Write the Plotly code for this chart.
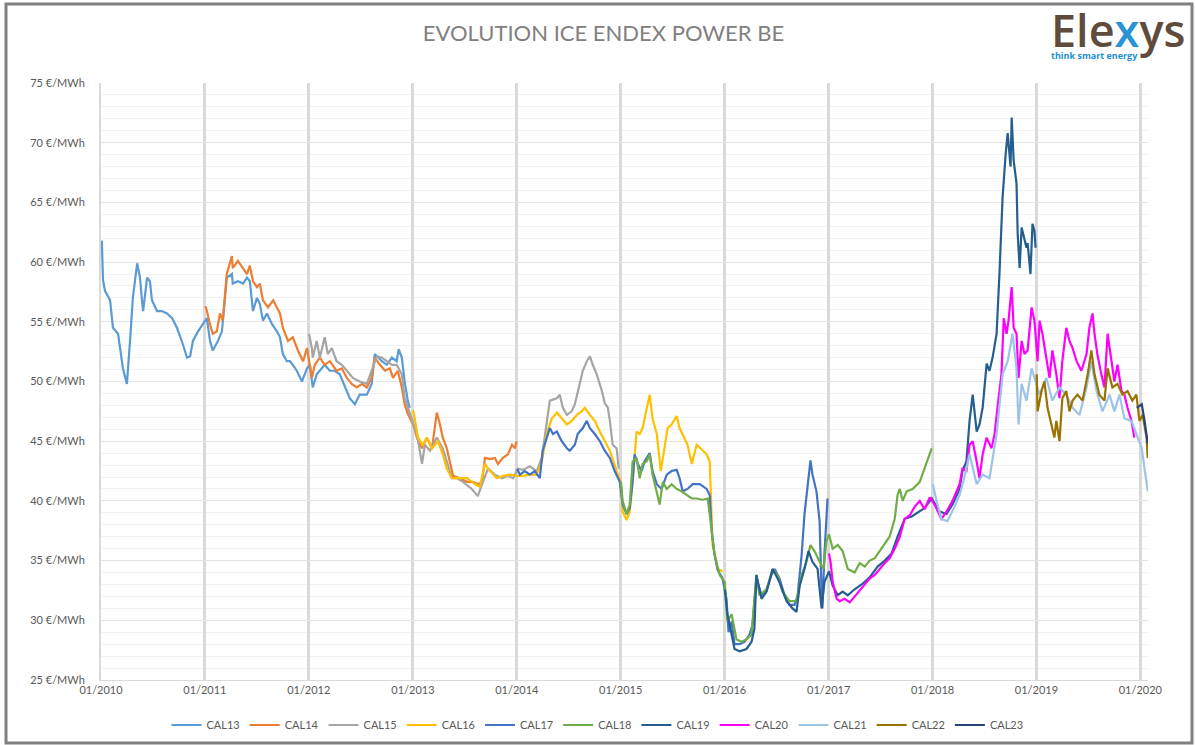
import plotly.graph_objects as go

# ---------------- data ----------------
series_names = ["CAL13", "CAL14", "CAL15", "CAL16", "CAL17", "CAL18",
                "CAL19", "CAL20", "CAL21", "CAL22", "CAL23"]
series_colors = ["#5B9BD5", "#ED7D31", "#A5A5A5", "#FFC000", "#4472C4", "#70AD47",
                 "#255E91", "#FF00FF", "#9DC3E6", "#997300", "#264478"]

cal13_dates = ["2010-01-04", "2010-01-08", "2010-01-15", "2010-02-02", "2010-02-12", "2010-03-02",
               "2010-03-19", "2010-04-02", "2010-04-13", "2010-04-23", "2010-05-08", "2010-05-18",
               "2010-05-25", "2010-05-29", "2010-06-12", "2010-06-22", "2010-06-29", "2010-07-17",
               "2010-08-03", "2010-08-21", "2010-09-08", "2010-09-25", "2010-10-16", "2010-10-30",
               "2010-11-10", "2010-11-20", "2010-12-08", "2010-12-26", "2011-01-08", "2011-01-19",
               "2011-01-29", "2011-02-16", "2011-03-02", "2011-03-19", "2011-04-06", "2011-04-09",
               "2011-04-27", "2011-05-15", "2011-05-29", "2011-06-08", "2011-06-19", "2011-07-03",
               "2011-07-13", "2011-07-24", "2011-08-07", "2011-08-25", "2011-09-11", "2011-09-22",
               "2011-10-02", "2011-10-16", "2011-10-27", "2011-11-06", "2011-11-20", "2011-12-08",
               "2011-12-26", "2012-01-05", "2012-01-15", "2012-01-29", "2012-02-09", "2012-02-26",
               "2012-03-15", "2012-04-01", "2012-04-19", "2012-05-07", "2012-05-24", "2012-06-11",
               "2012-06-28", "2012-07-23", "2012-08-09", "2012-08-20", "2012-09-14", "2012-10-01",
               "2012-10-19", "2012-11-05", "2012-11-12", "2012-11-23", "2012-12-03", "2012-12-14",
               "2012-12-21"]
cal13_values = [61.8, 58.5, 57.6, 56.8, 54.5, 54.0, 51.1, 49.8, 53.4, 57.0, 59.9, 58.7,
                56.8, 55.9, 58.7, 58.4, 56.8, 55.9, 55.9, 55.7, 55.3, 54.5, 53.1, 52.0,
                52.1, 53.4, 54.2, 54.8, 55.3, 53.4, 52.6, 53.4, 54.2, 58.7, 59.0, 58.2,
                58.4, 58.2, 58.7, 58.4, 55.9, 57.0, 56.5, 55.1, 55.7, 54.8, 54.2, 53.7,
                52.3, 51.7, 51.7, 51.4, 50.9, 50.0, 51.1, 51.4, 49.5, 50.6, 50.9, 51.4,
                50.9, 50.9, 50.6, 49.5, 48.6, 48.1, 48.9, 48.9, 49.8, 52.3, 51.7, 51.4,
                52.0, 51.7, 52.7, 52.0, 50.0, 48.4, 47.8]

cal14_dates = ["2011-01-03", "2011-01-08", "2011-01-19", "2011-01-29", "2011-02-12", "2011-02-23",
               "2011-03-05", "2011-03-19", "2011-04-06", "2011-04-09", "2011-04-27", "2011-05-15",
               "2011-05-29", "2011-06-08", "2011-06-19", "2011-07-03", "2011-07-13", "2011-07-24",
               "2011-08-11", "2011-08-29", "2011-09-11", "2011-09-22", "2011-10-02", "2011-10-20",
               "2011-11-06", "2011-11-24", "2011-12-12", "2011-12-26", "2012-01-12", "2012-01-22",
               "2012-02-09", "2012-02-26", "2012-03-15", "2012-04-08", "2012-04-26", "2012-05-14",
               "2012-05-31", "2012-06-18", "2012-07-06", "2012-07-23", "2012-08-09", "2012-08-20",
               "2012-09-07", "2012-09-25", "2012-10-12", "2012-10-23", "2012-11-09", "2012-11-23",
               "2012-12-03", "2012-12-14", "2013-01-02", "2013-01-15", "2013-02-02", "2013-02-19",
               "2013-03-09", "2013-03-26", "2013-04-06", "2013-04-16", "2013-04-30", "2013-05-11",
               "2013-05-22", "2013-06-15", "2013-07-10", "2013-07-31", "2013-08-17", "2013-09-01",
               "2013-09-11", "2013-09-29", "2013-10-16", "2013-10-27", "2013-11-13", "2013-12-01",
               "2013-12-15", "2013-12-26", "2013-12-31"]
cal14_values = [56.3, 55.9, 54.8, 54.0, 54.2, 55.7, 55.1, 59.0, 60.5, 59.5, 60.1, 59.5,
                59.0, 59.7, 58.4, 57.9, 58.2, 56.8, 56.2, 56.8, 56.2, 55.7, 54.5, 53.4,
                53.7, 52.6, 51.7, 52.8, 50.3, 51.4, 52.0, 51.4, 51.7, 50.9, 51.1, 50.3,
                49.8, 49.5, 49.8, 49.5, 50.3, 52.0, 51.4, 50.9, 51.1, 50.3, 50.9, 49.5,
                48.1, 47.3, 46.4, 45.3, 44.4, 45.3, 44.4, 47.4, 46.4, 45.3, 44.4, 43.3,
                42.1, 41.9, 41.6, 41.6, 41.4, 41.6, 43.6, 43.5, 43.6, 43.1, 43.6, 43.9,
                44.7, 44.4, 45.0]

cal15_dates = ["2012-01-02", "2012-01-12", "2012-01-15", "2012-01-29", "2012-02-09", "2012-02-26",
               "2012-03-08", "2012-03-22", "2012-04-08", "2012-04-26", "2012-05-14", "2012-06-04",
               "2012-06-28", "2012-07-23", "2012-08-09", "2012-08-27", "2012-09-14", "2012-10-01",
               "2012-10-19", "2012-11-05", "2012-11-23", "2012-12-03", "2012-12-21", "2013-01-15",
               "2013-02-02", "2013-02-12", "2013-03-02", "2013-03-26", "2013-04-16", "2013-05-04",
               "2013-05-18", "2013-06-05", "2013-06-26", "2013-07-27", "2013-08-17", "2013-09-04",
               "2013-09-22", "2013-10-16", "2013-11-10", "2013-12-01", "2013-12-19", "2014-01-05",
               "2014-01-22", "2014-02-16", "2014-03-12", "2014-03-30", "2014-04-16", "2014-04-27",
               "2014-05-22", "2014-06-01", "2014-06-12", "2014-06-26", "2014-07-13", "2014-07-24",
               "2014-08-10", "2014-08-21", "2014-09-04", "2014-09-15", "2014-09-25", "2014-10-09",
               "2014-10-27", "2014-11-06", "2014-11-17", "2014-11-24", "2014-12-04", "2014-12-18",
               "2014-12-25"]
cal15_values = [54.0, 52.8, 52.0, 53.4, 52.0, 53.7, 52.3, 52.8, 51.7, 51.4, 50.9, 50.3,
                50.0, 49.8, 50.9, 52.1, 52.0, 51.7, 51.4, 51.4, 50.6, 48.6, 47.3, 45.6,
                43.1, 44.7, 44.2, 45.3, 44.4, 43.1, 41.9, 41.9, 41.6, 41.0, 40.4, 41.6,
                42.7, 42.2, 41.9, 42.1, 41.9, 42.7, 42.6, 42.9, 42.5, 43.6, 46.7, 48.4,
                48.6, 48.9, 47.8, 47.2, 47.5, 48.1, 49.8, 50.9, 51.7, 52.1, 51.4, 50.6,
                49.2, 48.2, 47.8, 46.7, 44.7, 44.4, 42.7]

cal16_dates = ["2013-01-02", "2013-01-19", "2013-02-05", "2013-02-19", "2013-03-09", "2013-03-30",
               "2013-04-16", "2013-04-30", "2013-05-18", "2013-06-15", "2013-07-10", "2013-08-07",
               "2013-08-24", "2013-09-11", "2013-09-29", "2013-10-23", "2013-11-13", "2013-12-08",
               "2014-01-02", "2014-01-22", "2014-02-16", "2014-03-12", "2014-03-30", "2014-04-16",
               "2014-05-04", "2014-05-22", "2014-06-08", "2014-06-26", "2014-07-13", "2014-07-31",
               "2014-08-17", "2014-08-28", "2014-09-15", "2014-10-02", "2014-10-20", "2014-11-06",
               "2014-11-24", "2014-12-18", "2015-01-02", "2015-01-08", "2015-01-22", "2015-02-02",
               "2015-02-12", "2015-02-26", "2015-03-09", "2015-03-19", "2015-04-02", "2015-04-13",
               "2015-04-23", "2015-05-08", "2015-05-22", "2015-06-05", "2015-06-15", "2015-06-29",
               "2015-07-17", "2015-07-27", "2015-08-07", "2015-08-24", "2015-09-08", "2015-09-25",
               "2015-10-13", "2015-10-30", "2015-11-10", "2015-11-17", "2015-11-20", "2015-12-08",
               "2015-12-25"]
cal16_values = [47.6, 45.3, 44.7, 45.3, 44.4, 45.0, 43.9, 42.7, 41.9, 41.9, 41.9, 41.4,
                41.2, 43.1, 42.5, 41.9, 42.1, 42.2, 42.1, 42.1, 42.2, 42.2, 43.3, 45.6,
                46.9, 47.4, 46.9, 46.4, 46.7, 47.2, 47.5, 47.8, 47.2, 46.7, 45.8, 45.0,
                44.2, 42.5, 41.6, 39.1, 38.4, 39.1, 41.6, 45.8, 45.6, 46.1, 47.8, 48.9,
                46.9, 45.6, 42.5, 44.4, 46.1, 46.4, 47.1, 46.1, 45.6, 44.7, 43.1, 44.7,
                44.3, 43.9, 43.3, 38.9, 36.3, 34.3, 34.1]

cal17_dates = ["2014-01-02", "2014-01-12", "2014-01-29", "2014-02-16", "2014-03-05", "2014-03-23",
               "2014-04-02", "2014-04-16", "2014-04-27", "2014-05-08", "2014-05-22", "2014-06-08",
               "2014-06-26", "2014-07-06", "2014-07-24", "2014-08-03", "2014-08-21", "2014-09-04",
               "2014-09-15", "2014-10-02", "2014-10-20", "2014-11-06", "2014-11-24", "2014-12-11",
               "2014-12-29", "2015-01-08", "2015-01-22", "2015-02-02", "2015-02-12", "2015-02-19",
               "2015-03-02", "2015-03-16", "2015-03-26", "2015-04-13", "2015-04-23", "2015-05-08",
               "2015-05-25", "2015-06-12", "2015-06-29", "2015-07-17", "2015-07-27", "2015-08-07",
               "2015-08-24", "2015-09-11", "2015-10-06", "2015-10-30", "2015-11-10", "2015-11-17",
               "2015-11-27", "2015-12-08", "2015-12-25", "2016-01-08", "2016-01-15", "2016-01-26",
               "2016-02-05", "2016-02-23", "2016-03-11", "2016-03-29", "2016-04-08", "2016-04-22",
               "2016-05-10", "2016-05-28", "2016-06-14", "2016-06-25", "2016-07-12", "2016-07-30",
               "2016-08-16", "2016-09-03", "2016-09-14", "2016-09-28", "2016-10-08", "2016-10-29",
               "2016-11-05", "2016-11-19", "2016-11-30", "2016-12-07", "2016-12-10", "2016-12-17",
               "2016-12-28"]
cal17_values = [42.7, 42.2, 42.5, 42.2, 42.5, 41.9, 44.2, 45.3, 46.1, 45.6, 45.8, 45.0,
                44.4, 44.2, 44.7, 45.6, 46.1, 46.7, 46.1, 45.6, 45.0, 44.2, 43.6, 42.5,
                41.6, 39.7, 38.9, 39.4, 41.6, 43.9, 43.1, 42.5, 43.3, 44.0, 42.5, 41.4,
                41.0, 42.2, 42.5, 42.6, 41.9, 40.8, 41.0, 41.4, 41.4, 41.0, 40.5, 37.4,
                35.5, 34.2, 33.5, 31.8, 29.0, 29.9, 28.0, 28.0, 28.2, 28.8, 29.6, 33.5,
                32.1, 32.6, 33.8, 34.3, 33.5, 32.1, 31.3, 31.3, 32.1, 35.5, 38.9, 43.4,
                42.2, 40.8, 38.3, 32.4, 31.0, 35.5, 40.2]

cal18_dates = ["2015-01-02", "2015-01-08", "2015-01-22", "2015-02-02", "2015-02-12", "2015-02-26",
               "2015-03-09", "2015-03-19", "2015-04-02", "2015-04-13", "2015-04-23", "2015-05-08",
               "2015-05-18", "2015-05-29", "2015-06-12", "2015-06-29", "2015-07-17", "2015-08-03",
               "2015-08-21", "2015-09-08", "2015-09-25", "2015-10-16", "2015-11-03", "2015-11-13",
               "2015-11-27", "2015-12-15", "2016-01-02", "2016-01-11", "2016-01-26", "2016-02-12",
               "2016-03-01", "2016-03-18", "2016-04-05", "2016-04-22", "2016-05-03", "2016-05-28",
               "2016-06-18", "2016-07-05", "2016-07-23", "2016-08-16", "2016-09-10", "2016-09-28",
               "2016-10-15", "2016-10-29", "2016-11-12", "2016-11-30", "2016-12-14", "2016-12-24",
               "2017-01-02", "2017-01-15", "2017-02-02", "2017-02-19", "2017-03-09", "2017-04-02",
               "2017-04-20", "2017-05-08", "2017-05-25", "2017-06-12", "2017-06-29", "2017-07-17",
               "2017-08-03", "2017-08-21", "2017-08-31", "2017-09-08", "2017-09-18", "2017-10-02",
               "2017-10-23", "2017-11-17", "2017-12-04", "2017-12-29"]
cal18_values = [41.6, 40.0, 38.9, 39.7, 43.3, 43.6, 41.9, 43.1, 43.3, 43.9, 42.2, 40.8,
                39.7, 41.6, 41.0, 41.4, 41.0, 40.8, 40.5, 40.2, 40.2, 40.1, 40.2, 38.0,
                35.5, 33.8, 33.2, 29.9, 30.5, 28.4, 28.2, 28.4, 28.8, 33.8, 32.1, 32.6,
                34.3, 33.8, 32.4, 31.6, 31.6, 33.8, 34.9, 36.3, 35.8, 34.9, 34.3, 36.6,
                37.2, 36.0, 36.3, 35.8, 34.3, 34.0, 34.8, 34.5, 35.0, 35.2, 35.8, 36.5,
                37.0, 38.5, 40.5, 41.0, 40.0, 40.8, 41.0, 41.6, 42.7, 44.4]

cal19_dates = ["2016-01-02", "2016-01-11", "2016-01-26", "2016-02-05", "2016-02-23", "2016-03-18",
               "2016-04-05", "2016-04-15", "2016-04-22", "2016-05-10", "2016-05-28", "2016-06-18",
               "2016-07-12", "2016-08-06", "2016-08-27", "2016-09-10", "2016-09-21", "2016-10-08",
               "2016-10-22", "2016-11-05", "2016-11-23", "2016-12-07", "2016-12-17", "2017-01-02",
               "2017-01-15", "2017-02-02", "2017-02-19", "2017-03-09", "2017-04-02", "2017-04-27",
               "2017-05-25", "2017-06-22", "2017-07-17", "2017-08-10", "2017-08-31", "2017-09-25",
               "2017-10-20", "2017-11-10", "2017-12-04", "2017-12-29", "2018-01-26", "2018-02-19",
               "2018-03-12", "2018-04-06", "2018-04-16", "2018-04-30", "2018-05-11", "2018-05-22",
               "2018-05-29", "2018-06-05", "2018-06-15", "2018-06-26", "2018-07-10", "2018-07-20",
               "2018-07-31", "2018-08-14", "2018-08-24", "2018-09-04", "2018-09-15", "2018-09-22",
               "2018-10-02", "2018-10-06", "2018-10-13", "2018-10-23", "2018-10-27", "2018-11-03",
               "2018-11-10", "2018-11-20", "2018-11-27", "2018-12-01", "2018-12-11", "2018-12-18",
               "2018-12-25", "2018-12-29"]
cal19_values = [32.6, 30.5, 28.8, 27.6, 27.4, 27.6, 28.2, 29.3, 33.8, 31.8, 32.4, 34.3,
                33.2, 31.6, 31.0, 30.7, 32.9, 34.3, 35.8, 34.9, 34.3, 31.0, 33.2, 34.1,
                32.9, 32.1, 32.4, 32.1, 32.6, 33.0, 33.6, 34.5, 35.0, 35.6, 37.0, 38.5,
                38.7, 39.0, 39.4, 40.2, 39.1, 38.9, 39.7, 41.0, 42.5, 43.3, 46.7, 48.9,
                47.5, 45.8, 46.4, 47.8, 51.5, 50.9, 52.0, 54.0, 59.0, 65.4, 69.1, 70.8,
                68.0, 72.1, 68.5, 66.6, 62.4, 59.5, 62.9, 61.8, 61.2, 61.6, 59.0, 63.2,
                62.6, 61.2]

cal20_dates = ["2017-01-02", "2017-01-08", "2017-01-15", "2017-01-29", "2017-02-09", "2017-02-26",
               "2017-03-16", "2017-04-02", "2017-04-20", "2017-05-08", "2017-05-25", "2017-06-12",
               "2017-06-29", "2017-07-17", "2017-08-03", "2017-08-21", "2017-09-08", "2017-09-25",
               "2017-10-13", "2017-10-30", "2017-11-17", "2017-12-04", "2017-12-22", "2018-01-08",
               "2018-02-01", "2018-02-19", "2018-03-12", "2018-04-06", "2018-04-16", "2018-04-30",
               "2018-05-11", "2018-05-22", "2018-06-05", "2018-06-15", "2018-06-26", "2018-07-10",
               "2018-07-27", "2018-08-07", "2018-08-17", "2018-08-31", "2018-09-08", "2018-09-18",
               "2018-09-25", "2018-10-06", "2018-10-13", "2018-10-23", "2018-10-30", "2018-11-10",
               "2018-11-20", "2018-12-01", "2018-12-15", "2018-12-25", "2019-01-05", "2019-01-12",
               "2019-01-22", "2019-02-05", "2019-02-16", "2019-02-26", "2019-03-12", "2019-03-23",
               "2019-04-02", "2019-04-16", "2019-04-27", "2019-05-08", "2019-05-22", "2019-06-08",
               "2019-06-26", "2019-07-06", "2019-07-17", "2019-07-24", "2019-08-03", "2019-08-17",
               "2019-08-28", "2019-09-08", "2019-09-22", "2019-10-02", "2019-10-13", "2019-10-27",
               "2019-11-06", "2019-11-17", "2019-12-01", "2019-12-11"]
cal20_values = [35.6, 34.8, 33.2, 31.8, 31.6, 31.8, 31.5, 32.0, 32.5, 33.0, 33.5, 33.8,
                34.3, 34.8, 35.2, 36.0, 37.0, 38.5, 38.8, 39.5, 40.0, 39.3, 40.3, 39.7,
                38.5, 39.1, 40.0, 41.4, 42.7, 42.5, 44.7, 45.0, 43.3, 41.9, 43.9, 45.3,
                44.4, 45.6, 47.8, 50.6, 55.3, 54.0, 55.1, 57.9, 54.5, 54.0, 50.3, 53.4,
                52.3, 52.6, 56.2, 55.1, 51.7, 55.1, 54.0, 52.0, 50.3, 52.6, 50.6, 48.6,
                51.7, 54.5, 53.4, 52.8, 51.7, 50.9, 52.3, 54.5, 55.7, 54.0, 52.3, 50.6,
                49.5, 54.0, 51.7, 50.0, 51.4, 49.2, 48.9, 47.8, 46.7, 45.3]

cal21_dates = ["2018-01-02", "2018-01-15", "2018-02-01", "2018-02-22", "2018-03-19", "2018-04-06",
               "2018-04-23", "2018-05-11", "2018-06-05", "2018-06-26", "2018-07-20", "2018-08-14",
               "2018-09-04", "2018-09-22", "2018-10-09", "2018-10-23", "2018-10-30", "2018-11-10",
               "2018-11-27", "2018-12-15", "2018-12-25", "2019-01-12", "2019-02-05", "2019-02-26",
               "2019-03-23", "2019-04-16", "2019-05-08", "2019-06-01", "2019-06-26", "2019-07-13",
               "2019-07-31", "2019-08-21", "2019-09-15", "2019-10-02", "2019-10-20", "2019-11-06",
               "2019-12-01", "2019-12-18", "2020-01-06", "2020-01-16", "2020-01-27"]
cal21_values = [41.4, 40.0, 38.5, 38.3, 39.5, 40.5, 42.0, 43.9, 41.4, 42.2, 41.9, 45.6,
                50.6, 51.7, 54.0, 51.1, 46.4, 49.8, 48.4, 51.1, 50.3, 48.9, 50.3, 48.4,
                49.5, 48.9, 47.8, 47.2, 49.5, 51.7, 49.2, 47.5, 48.9, 47.5, 48.9, 46.9,
                46.7, 45.6, 44.4, 42.7, 40.8]

cal22_dates = ["2019-01-02", "2019-01-05", "2019-01-19", "2019-01-29", "2019-02-09", "2019-02-23",
               "2019-03-05", "2019-03-12", "2019-03-23", "2019-04-02", "2019-04-16", "2019-04-27",
               "2019-05-08", "2019-05-25", "2019-06-12", "2019-06-30", "2019-07-13", "2019-07-24",
               "2019-08-10", "2019-08-28", "2019-09-08", "2019-09-25", "2019-10-13", "2019-10-30",
               "2019-11-17", "2019-12-04", "2019-12-18", "2019-12-29", "2020-01-09", "2020-01-23",
               "2020-01-27"]
cal22_values = [50.6, 47.5, 49.2, 50.0, 47.8, 46.4, 45.3, 46.7, 45.0, 48.6, 49.2, 47.5,
                48.4, 48.9, 48.4, 50.6, 52.6, 50.6, 48.9, 48.4, 51.1, 49.5, 49.8, 48.9,
                49.2, 48.4, 48.9, 46.7, 47.2, 45.3, 43.6]

cal23_dates = ["2019-12-20", "2020-01-06", "2020-01-16", "2020-01-27"]
cal23_values = [47.8, 48.1, 46.7, 44.8]

year_ticks = ["2010-01-01", "2011-01-01", "2012-01-01", "2013-01-01", "2014-01-01",
              "2015-01-01", "2016-01-01", "2017-01-01", "2018-01-01", "2019-01-01",
              "2020-01-01"]
year_tick_labels = ["01/2010", "01/2011", "01/2012", "01/2013", "01/2014", "01/2015",
                    "01/2016", "01/2017", "01/2018", "01/2019", "01/2020"]

all_dates = [cal13_dates, cal14_dates, cal15_dates, cal16_dates, cal17_dates, cal18_dates,
             cal19_dates, cal20_dates, cal21_dates, cal22_dates, cal23_dates]
all_values = [cal13_values, cal14_values, cal15_values, cal16_values, cal17_values, cal18_values,
              cal19_values, cal20_values, cal21_values, cal22_values, cal23_values]

# ---------------- figure ----------------
FONT = "Lato"
GRAY_TXT = "#595959"

fig = go.Figure()
for name, color, d, v in zip(series_names, series_colors, all_dates, all_values):
    fig.add_trace(go.Scatter(x=d, y=v, mode="lines", name=name,
                             line=dict(color=color, width=2.2)))

W, H = 1195, 745
L, R, T, B = 101, 47, 83, 65
pw, ph = W - L - R, H - T - B

def px_x(x):
    return (x - L) / pw

def px_y(y):
    return (H - B - y) / ph

fig.update_layout(
    width=W, height=H,
    margin=dict(l=L, r=R, t=T, b=B),
    paper_bgcolor="white", plot_bgcolor="white",
    font=dict(family=FONT, color=GRAY_TXT, size=11),
    title=dict(text="EVOLUTION ICE ENDEX POWER BE", x=0.505, xref="container",
               xanchor="center", y=1 - 33 / H, yref="container", yanchor="middle",
               font=dict(family=FONT, size=22, color="#808080")),
    showlegend=True,
    legend=dict(orientation="h", x=0.5, xref="container", xanchor="center",
                y=1 - 725 / H, yref="container", yanchor="middle",
                font=dict(size=11, color=GRAY_TXT), tracegroupgap=0,
                itemwidth=30),
    xaxis=dict(type="date", range=["2010-01-01", "2020-01-28"],
               tickmode="array", tickvals=year_ticks, ticktext=year_tick_labels,
               showgrid=True, gridcolor="#d9d9d9", gridwidth=3,
               showline=True, linecolor="#d9d9d9", linewidth=1,
               ticks="", tickfont=dict(size=11, color=GRAY_TXT),
               zeroline=False, fixedrange=True),
    yaxis=dict(range=[25, 75], dtick=5, tick0=25, ticksuffix=" €/MWh",
               showgrid=True, gridcolor="#e4e4e4", gridwidth=1,
               minor=dict(dtick=1, showgrid=True, gridcolor="#f2f2f2", gridwidth=1),
               ticks="", ticklabelstandoff=12, tickfont=dict(size=11, color=GRAY_TXT),
               zeroline=False, showline=True, linecolor="#d9d9d9", linewidth=2),
)

# outer frame of the chart picture
fig.add_shape(type="rect", xref="paper", yref="paper",
              x0=px_x(6), x1=px_x(1192), y0=px_y(743), y1=px_y(4),
              line=dict(color="#808080", width=3), fillcolor="rgba(0,0,0,0)", layer="above")

# logo: one two-line text block (big brand name, small tagline right below)
logo_text = ("<span style='font-size:45px;font-weight:600;color:#5f4c3d'>Ele"
             "<span style='color:#2a93d5'>x</span>ys</span><br>"
             "<b><span style='color:#1e8fd0'>think smart energy</span></b>")
fig.add_annotation(xref="paper", yref="paper", x=px_x(1049), y=px_y(64),
                   text=logo_text, showarrow=False, align="left",
                   font=dict(family="Open Sans", size=9, color="#1e8fd0"),
                   xanchor="left", yanchor="bottom")

fig.write_html("out.html",
               config={"displayModeBar": False},
               post_script="document.body.style.margin='0px';"
                           "document.body.style.overflow='hidden';")
